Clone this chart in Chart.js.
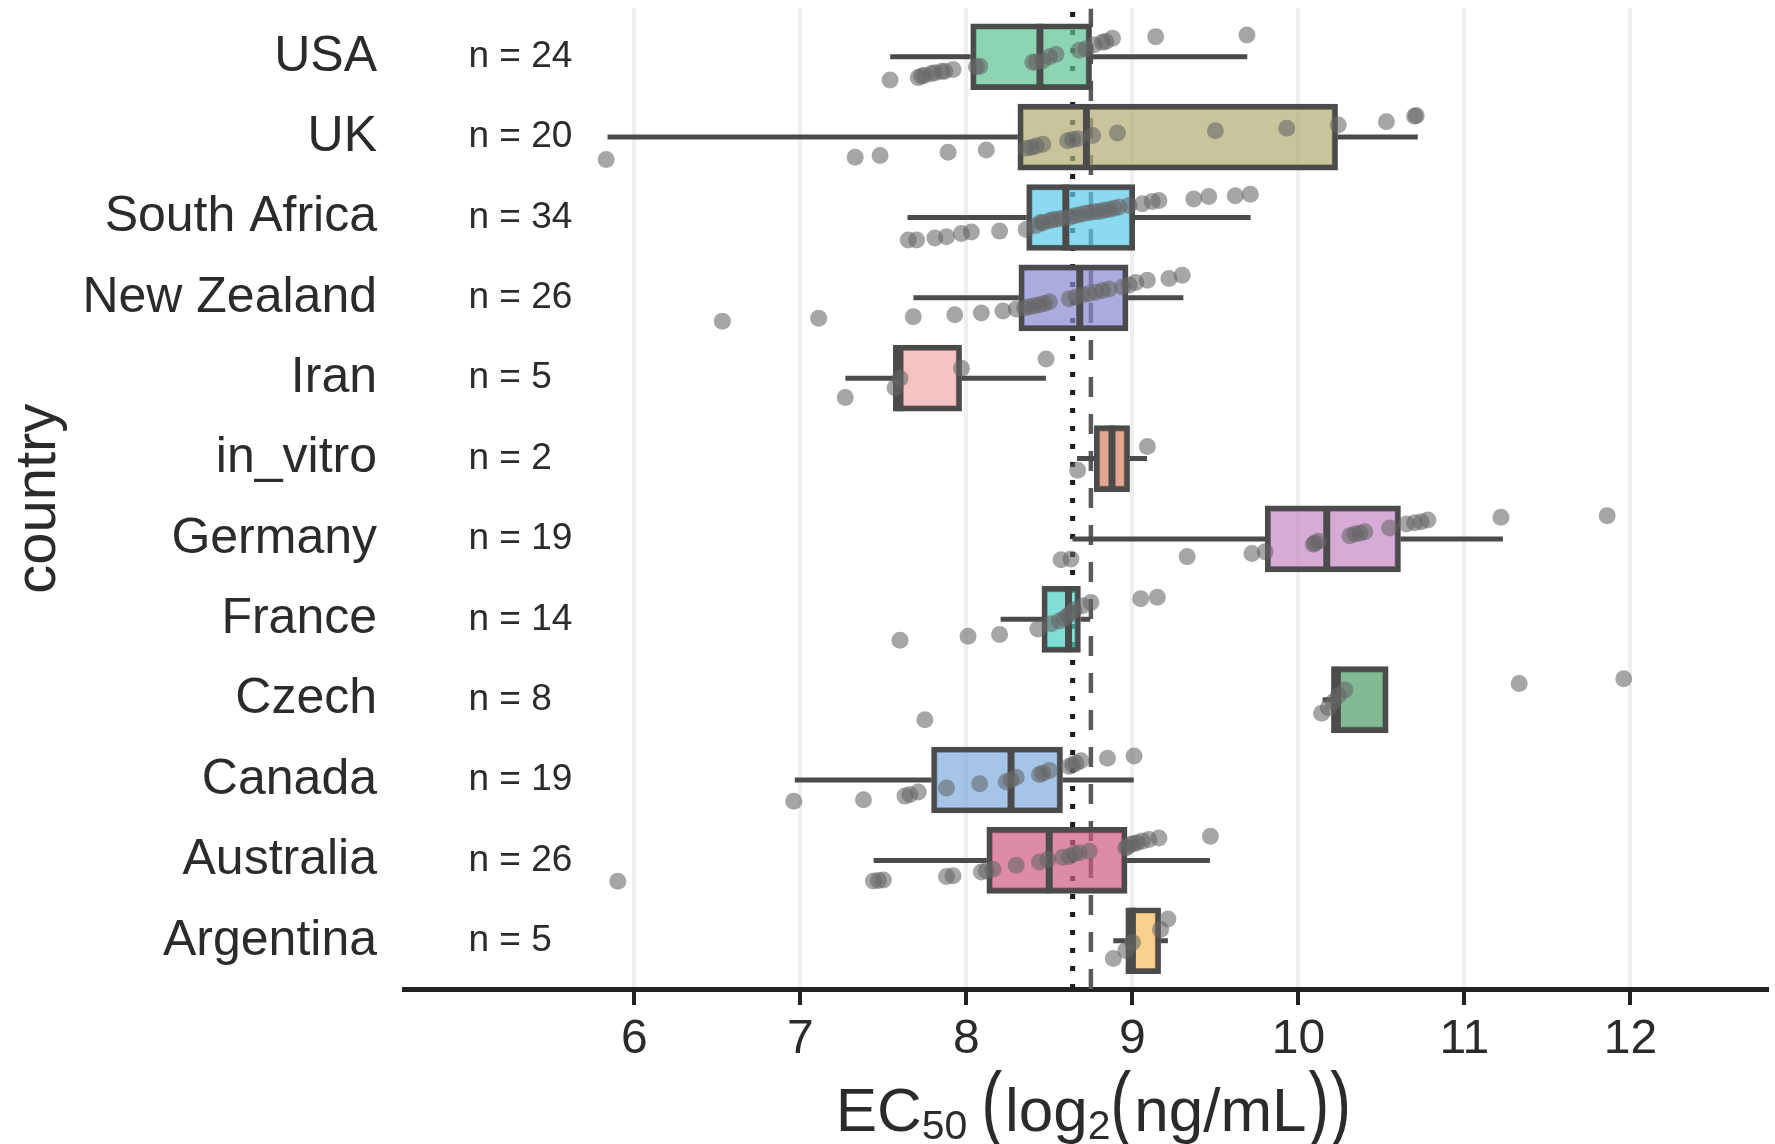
<!DOCTYPE html>
<html>
<head>
<meta charset="utf-8">
<title>EC50 by country</title>
<script src="https://cdn.jsdelivr.net/npm/chart.js@4.4.1/dist/chart.umd.min.js"></script>
<style>
  html, body { margin: 0; padding: 0; background: #ffffff; }
  #wrap { width: 1775px; height: 1144px; position: relative; }
</style>
</head>
<body>
<div id="wrap"><canvas id="chart" width="1775" height="1144"></canvas></div>
<script>
// Categories, bottom row first (row position = index + 1)
const countries = ['Argentina', 'Australia', 'Canada', 'Czech', 'France', 'Germany',
                   'in_vitro', 'Iran', 'New Zealand', 'South Africa', 'UK', 'USA'];

// Box statistics, log2(ng/mL)
const q1        = [8.96, 8.123, 7.79, 10.199, 8.455, 9.80, 8.77, 7.56, 8.316, 8.363, 8.31, 8.026];
const medians   = [9.00, 8.499, 8.269, 10.235, 8.615, 10.171, 8.877, 7.60, 8.683, 8.599, 8.723, 8.443];
const q3        = [9.17, 8.968, 8.579, 10.541, 8.687, 10.615, 8.983, 7.971, 8.974, 9.014, 10.236, 8.754];
const whiskerLo = [8.885, 7.441, 6.966, 10.146, 8.206, 8.639, 8.666, 7.271, 7.681, 7.645, 5.838, 7.541];
const whiskerHi = [9.214, 9.467, 9.008, 10.541, 8.746, 11.232, 9.088, 8.479, 9.307, 9.712, 10.719, 9.692];

// Reference lines
const refDotted = 8.64;
const refDashed = 8.75;

// Axis ticks
const xTicks = [6, 7, 8, 9, 10, 11, 12];

// Individual measurements: [EC50, vertical offset within the row]
const ptsArgentina = [[8.885,-0.22],[8.96,-0.12],[9.00,-0.02],[9.17,0.14],[9.214,0.27]];
const ptsAustralia = [[5.90,-0.26],[7.44,-0.255],[7.47,-0.25],[7.50,-0.245],[7.88,-0.20],[7.92,-0.19],
  [8.09,-0.145],[8.12,-0.13],[8.16,-0.11],[8.30,-0.06],[8.44,-0.02],[8.49,0.01],[8.58,0.04],[8.62,0.05],
  [8.65,0.085],[8.68,0.095],[8.74,0.115],[8.96,0.155],[8.97,0.17],[8.99,0.20],[9.01,0.21],[9.03,0.22],
  [9.06,0.24],[9.10,0.26],[9.16,0.28],[9.47,0.30]];
const ptsCanada = [[6.96,-0.265],[7.38,-0.245],[7.63,-0.20],[7.66,-0.18],[7.71,-0.15],[7.88,-0.10],
  [8.08,-0.045],[8.24,-0.02],[8.27,0.0],[8.30,0.035],[8.44,0.07],[8.46,0.085],[8.50,0.12],[8.62,0.17],
  [8.64,0.19],[8.66,0.21],[8.69,0.24],[8.85,0.27],[9.01,0.30]];
const ptsCzech = [[7.75,-0.25],[10.14,-0.17],[10.18,-0.10],[10.21,-0.03],[10.24,0.05],[10.28,0.12],
  [11.33,0.20],[11.96,0.26]];
const ptsFrance = [[7.60,-0.26],[8.01,-0.21],[8.20,-0.19],[8.43,-0.12],[8.51,-0.055],[8.56,-0.02],
  [8.59,0.01],[8.61,0.04],[8.63,0.08],[8.65,0.12],[8.70,0.17],[8.75,0.21],[9.05,0.255],[9.15,0.275]];
const ptsGermany = [[8.57,-0.26],[8.63,-0.25],[9.33,-0.22],[9.72,-0.18],[9.80,-0.16],[10.09,-0.065],
  [10.10,-0.05],[10.12,-0.03],[10.31,0.04],[10.34,0.06],[10.37,0.07],[10.40,0.09],[10.55,0.135],
  [10.65,0.185],[10.70,0.20],[10.74,0.215],[10.78,0.235],[11.22,0.27],[11.86,0.29]];
const ptsInVitro = [[8.67,-0.146],[9.09,0.15]];
const ptsIran = [[7.27,-0.24],[7.57,-0.12],[7.60,0.0],[7.97,0.125],[8.48,0.24]];
const ptsNewZealand = [[6.53,-0.29],[7.11,-0.255],[7.68,-0.235],[7.93,-0.21],[8.09,-0.19],[8.22,-0.165],
  [8.30,-0.14],[8.35,-0.125],[8.38,-0.11],[8.41,-0.10],[8.44,-0.085],[8.47,-0.07],[8.50,-0.05],
  [8.62,-0.01],[8.66,0.01],[8.70,0.035],[8.74,0.05],[8.78,0.07],[8.82,0.09],[8.86,0.11],[8.94,0.135],
  [8.98,0.16],[9.02,0.19],[9.09,0.22],[9.22,0.24],[9.30,0.28]];
const ptsSouthAfrica = [[7.65,-0.28],[7.70,-0.28],[7.81,-0.255],[7.88,-0.24],[7.97,-0.20],[8.03,-0.18],
  [8.20,-0.17],[8.36,-0.15],[8.42,-0.10],[8.45,-0.06],[8.46,-0.07],[8.50,-0.04],[8.52,-0.03],[8.55,-0.02],
  [8.58,-0.01],[8.62,0.0],[8.65,0.02],[8.68,0.035],[8.71,0.05],[8.74,0.06],[8.77,0.07],[8.80,0.075],
  [8.83,0.09],[8.86,0.10],[8.89,0.115],[8.92,0.13],[8.98,0.15],[9.06,0.17],[9.12,0.20],[9.16,0.21],
  [9.37,0.23],[9.46,0.26],[9.62,0.27],[9.71,0.29]];
const ptsUK = [[5.83,-0.28],[7.33,-0.25],[7.48,-0.23],[7.89,-0.19],[8.12,-0.16],[8.36,-0.14],[8.39,-0.13],
  [8.42,-0.11],[8.46,-0.09],[8.61,-0.045],[8.64,-0.03],[8.67,-0.02],[8.76,0.02],[8.91,0.05],[9.50,0.08],
  [9.93,0.11],[10.24,0.15],[10.53,0.19],[10.70,0.26],[10.71,0.27]];
const ptsUSA = [[7.54,-0.29],[7.71,-0.26],[7.73,-0.24],[7.75,-0.23],[7.79,-0.21],[7.81,-0.20],[7.85,-0.185],
  [7.87,-0.18],[7.92,-0.16],[8.06,-0.125],[8.08,-0.12],[8.40,-0.07],[8.42,-0.065],[8.46,-0.05],[8.50,0.0],
  [8.54,0.03],[8.68,0.08],[8.72,0.10],[8.77,0.15],[8.82,0.18],[8.84,0.19],[8.88,0.23],[9.14,0.25],[9.69,0.27]];

const pointSets = [ptsArgentina, ptsAustralia, ptsCanada, ptsCzech, ptsFrance, ptsGermany,
                   ptsInVitro, ptsIran, ptsNewZealand, ptsSouthAfrica, ptsUK, ptsUSA];

// Styling
const boxFill = ['#f2bc5b', '#d05b80', '#7dabde', '#4e9c69', '#4cd0c4', '#c588c5',
                 '#d68063', '#f2aba5', '#8888d0', '#5bcaea', '#b0ac72', '#5cc294'];
const boxAlpha = 0.7;
const lineGrey = '#4b4b4b';
const textColor = '#2b2b2b';
const fontFamily = '"Liberation Sans", Arial, Helvetica, sans-serif';
const yMin = 0.4, yMax = 12.6;
const xMin = 4.612, xMax = 12.82;
const countLabelX = 5;

function withAlpha(hex, a) {
  const n = parseInt(hex.slice(1), 16);
  return `rgba(${(n >> 16) & 255},${(n >> 8) & 255},${n & 255},${a})`;
}

// Build chart datasets from the arrays above
const rows = countries.map((c, i) => i + 1);

const whiskerData = [];
rows.forEach((r, i) => {
  whiskerData.push({x: whiskerLo[i], y: r}, {x: q1[i], y: r}, {x: null, y: null});
  whiskerData.push({x: q3[i], y: r}, {x: whiskerHi[i], y: r}, {x: null, y: null});
});

const medianHalf = 0.41;
const medianData = [];
rows.forEach((r, i) => {
  medianData.push({x: medians[i], y: r - medianHalf}, {x: medians[i], y: r + medianHalf}, {x: null, y: null});
});

const boxData = rows.map((r, i) => ({x: [q1[i], q3[i]], y: r}));

const pointData = [];
pointSets.forEach((set, i) => {
  set.forEach(([v, off]) => pointData.push({x: v, y: rows[i] + off}));
});

// Count labels and the composite x-axis title (with subscripts and tall brackets)
const annotations = {
  id: 'annotations',
  afterDraw(chart) {
    const {ctx, scales: {x, y}, chartArea} = chart;
    ctx.save();
    ctx.fillStyle = textColor;
    ctx.font = `37px ${fontFamily}`;
    ctx.textAlign = 'left';
    ctx.textBaseline = 'middle';
    pointSets.forEach((set, i) => {
      ctx.fillText('n = ' + set.length, x.getPixelForValue(countLabelX), y.getPixelForValue(rows[i]));
    });

    const parts = [
      {t: 'EC', s: 62, d: 0}, {t: '50', s: 41, d: 8, gap: 14},
      {t: '(', s: 62, d: 0, k: 1.35, gap: 3}, {t: 'log', s: 62, d: 0}, {t: '2', s: 41, d: 8},
      {t: '(', s: 62, d: 0, k: 1.35, gap: 3}, {t: 'ng/mL', s: 62, d: 0, gap: 2},
      {t: ')', s: 62, d: 0, k: 1.35, gap: 1}, {t: ')', s: 62, d: 0, k: 1.35}
    ];
    ctx.textBaseline = 'alphabetic';
    let total = 0;
    parts.forEach(p => {
      ctx.font = `${p.s}px ${fontFamily}`;
      p.w = ctx.measureText(p.t).width + (p.gap || 0);
      total += p.w;
    });
    let px = (chartArea.left + chartArea.right) / 2 + 8 - total / 2;
    const baseY = 1131;
    parts.forEach(p => {
      ctx.font = `${p.s}px ${fontFamily}`;
      ctx.save();
      ctx.translate(px, baseY + p.d);
      if (p.k) ctx.scale(1, p.k);
      ctx.fillText(p.t, 0, 0);
      ctx.restore();
      px += p.w;
    });
    ctx.restore();
  }
};

Chart.defaults.font.family = fontFamily;

new Chart(document.getElementById('chart'), {
  type: 'scatter',
  data: {
    datasets: [
      {
        type: 'scatter', showLine: true, order: 6,
        data: [{x: refDotted, y: yMin}, {x: refDotted, y: yMax}],
        borderColor: '#1c1c1c', borderWidth: 5, borderDash: [5, 13],
        pointRadius: 0, fill: false
      },
      {
        type: 'scatter', showLine: true, order: 5,
        data: [{x: refDashed, y: yMin}, {x: refDashed, y: yMax}],
        borderColor: '#5a5a5a', borderWidth: 4.5, borderDash: [20, 17],
        pointRadius: 0, fill: false
      },
      {
        type: 'scatter', showLine: true, order: 4, spanGaps: false,
        data: whiskerData,
        borderColor: lineGrey, borderWidth: 5, pointRadius: 0, fill: false
      },
      {
        type: 'bar', indexAxis: 'y', order: 3,
        data: boxData,
        backgroundColor: boxFill.map(c => withAlpha(c, boxAlpha)),
        borderColor: lineGrey, borderWidth: 5.5, borderSkipped: false,
        barThickness: 66, grouped: false
      },
      {
        type: 'scatter', showLine: true, order: 2, spanGaps: false,
        data: medianData,
        borderColor: lineGrey, borderWidth: 7, pointRadius: 0, fill: false
      },
      {
        type: 'scatter', order: 1,
        data: pointData,
        pointRadius: 8.5, pointBackgroundColor: 'rgba(102,102,102,0.58)',
        pointBorderWidth: 0, pointBorderColor: 'rgba(0,0,0,0)'
      }
    ]
  },
  options: {
    responsive: false,
    animation: false,
    events: [],
    devicePixelRatio: 1,
    layout: { padding: { top: 6, right: 0, bottom: 0, left: 0 } },
    plugins: { legend: { display: false }, tooltip: { enabled: false } },
    scales: {
      x: {
        type: 'linear', min: xMin, max: xMax, offset: false,
        afterBuildTicks(s) { s.ticks = xTicks.map(v => ({value: v})); },
        afterFit(s) { s.height = 155; s.paddingLeft = 0; s.paddingRight = 0; },
        grid: { color: '#efefef', lineWidth: 4, drawOnChartArea: true, drawTicks: true, offset: false,
                tickColor: '#222222', tickWidth: 4, tickLength: 16 },
        border: { display: true, color: '#222222', width: 5 },
        ticks: { font: { size: 48 }, color: textColor, padding: 6, maxRotation: 0, autoSkip: false },
        title: { display: false }
      },
      y: {
        type: 'linear', min: yMin, max: yMax, offset: false,
        afterBuildTicks(s) { s.ticks = rows.map(v => ({value: v})); },
        afterFit(s) { s.width = 404; s.paddingTop = 0; s.paddingBottom = 0; },
        grid: { display: false, drawTicks: false, offset: false },
        border: { display: false },
        ticks: { font: { size: 50 }, color: textColor, padding: 27, autoSkip: false,
                 callback: v => countries[v - 1] },
        title: { display: true, text: 'country', color: textColor, font: { size: 58 },
                 padding: { top: 4, bottom: 0 } }
      }
    }
  },
  plugins: [annotations]
});
</script>
</body>
</html>
